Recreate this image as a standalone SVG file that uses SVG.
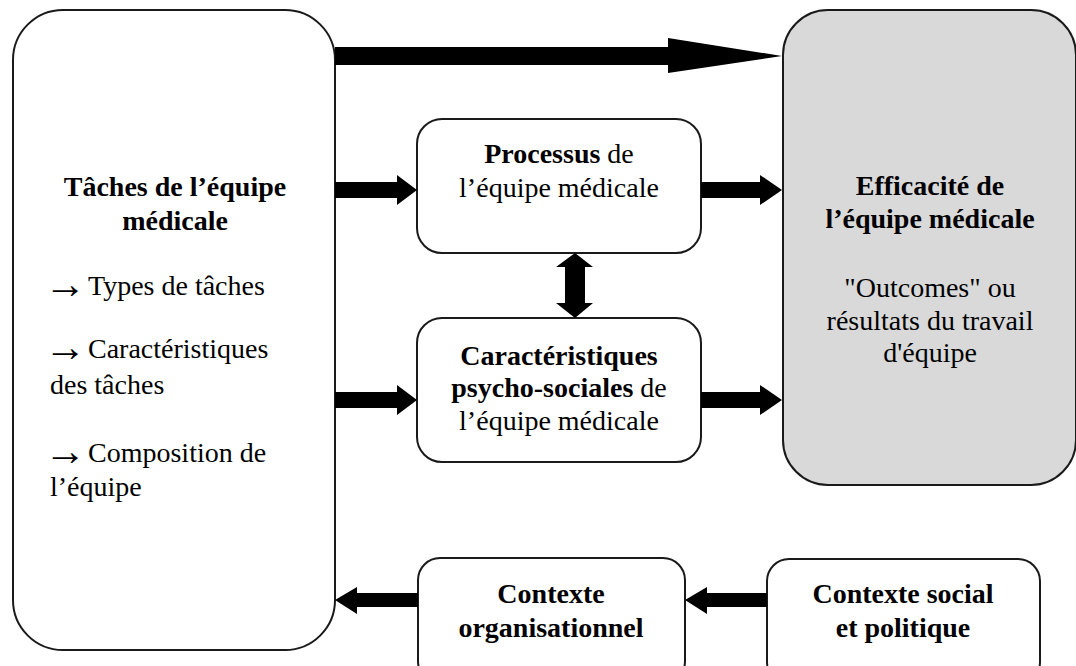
<svg xmlns="http://www.w3.org/2000/svg" width="1076" height="666" viewBox="0 0 1076 666">
<style>
.box{fill:#fff;stroke:#1a1a1a;stroke-width:2}
.gray{fill:#d9d9d9;stroke:#1a1a1a;stroke-width:2}
text{font-family:"Liberation Serif","Times New Roman",serif;font-size:28px;fill:#000}
.c{text-anchor:middle}
.b{font-weight:bold}
.ar{font-size:42px}
.arr{fill:#000;stroke:none}
</style>
<rect width="1076" height="666" fill="#fff"/>
<g id="taches">
<rect class="box" x="13" y="10" width="322" height="640" rx="50"/>
<text class="c b" x="175" y="196">Tâches de l’équipe</text>
<text class="c b" x="175" y="230">médicale</text>
<text x="50" y="295"><tspan class="ar" x="44" dy="3">→</tspan><tspan x="88" dy="-3">Types de tâches</tspan></text>
<text x="50" y="358"><tspan class="ar" x="44" dy="3">→</tspan><tspan x="88" dy="-3">Caractéristiques</tspan></text>
<text x="50" y="394">des tâches</text>
<text x="50" y="462"><tspan class="ar" x="44" dy="3">→</tspan><tspan x="88" dy="-3">Composition de</tspan></text>
<text x="50" y="496">l’équipe</text>
</g>
<g id="efficacite">
<rect class="gray" x="783" y="10" width="293" height="475" rx="45"/>
<text class="c b" x="930" y="195">Efficacité de</text>
<text class="c b" x="930" y="228">l’équipe médicale</text>
<text class="c" x="930" y="297">"Outcomes" ou</text>
<text class="c" x="930" y="330">résultats du travail</text>
<text class="c" x="930" y="362">d'équipe</text>
</g>
<g id="processus">
<rect class="box" x="417" y="119" width="284" height="134" rx="25"/>
<text class="c" x="559" y="163"><tspan class="b">Processus</tspan> de</text>
<text class="c" x="559" y="197">l’équipe médicale</text>
</g>
<g id="caracteristiques">
<rect class="box" x="417" y="318" width="284" height="144" rx="25"/>
<text class="c b" x="559" y="365">Caractéristiques</text>
<text class="c" x="559" y="397"><tspan class="b">psycho-sociales</tspan> de</text>
<text class="c" x="559" y="430">l’équipe médicale</text>
</g>
<g id="organisationnel">
<rect class="box" x="418" y="558" width="267" height="125" rx="22"/>
<text class="c b" x="551" y="603">Contexte</text>
<text class="c b" x="551" y="637">organisationnel</text>
</g>
<g id="social">
<rect class="box" x="767" y="559" width="273" height="125" rx="22"/>
<text class="c b" x="903" y="603">Contexte social</text>
<text class="c b" x="903" y="637">et politique</text>
</g>
<g id="connectors">
<polygon class="arr" points="335,47 668,47 668,38 782,56 668,73 668,65 335,65"/>
<polygon class="arr" points="335,182 397,182 397,175 417,190 397,205 397,198 335,198"/>
<polygon class="arr" points="701,182 760,182 760,175 782,190 760,205 760,198 701,198"/>
<polygon class="arr" points="335,392 397,392 397,385 417,400 397,415 397,408 335,408"/>
<polygon class="arr" points="701,392 760,392 760,385 782,400 760,415 760,408 701,408"/>
<polygon class="arr" points="575,253 593,267 585,267 585,303 593,303 575,318 556,303 565,303 565,267 556,267"/>
<polygon class="arr" points="418,593 357,593 357,587 335,600 357,614 357,607 418,607"/>
<polygon class="arr" points="767,593 707,593 707,587 685,600 707,614 707,607 767,607"/>
</g>
</svg>
